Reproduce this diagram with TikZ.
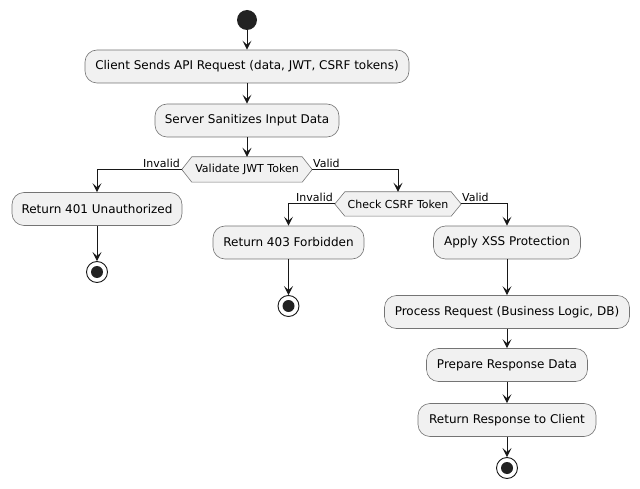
\documentclass[tikz,border=0pt]{standalone}
\usepackage{fontspec}
\setmainfont{DejaVu Sans}
\usetikzlibrary{arrows.meta,backgrounds}
\definecolor{boxfill}{HTML}{F1F1F1}
\definecolor{boxline}{HTML}{181818}
\definecolor{dotfill}{HTML}{222222}
\tikzset{
  actbox/.style={draw=boxline!60, line width=0.6pt, fill=boxfill, rounded corners=12pt,
    inner sep=0pt, minimum height=33pt, font=\fontsize{12}{14}\selectfont, text=black},
  hexlbl/.style={inner sep=0pt, minimum height=25pt, font=\fontsize{11}{13}\selectfont, text=black},
  hexshape/.style={draw=boxline!60, line width=0.6pt, fill=boxfill},
  brlbl/.style={inner sep=0pt, font=\fontsize{11}{13}\selectfont, text=black},
  flow/.style={draw=boxline, line width=1pt, -{Stealth[length=9pt,width=9pt,inset=4pt]}},
  startdot/.style={circle, fill=dotfill, minimum size=20pt, inner sep=0pt},
  enddot/.style={circle, draw=boxline, line width=0.9pt, fill=white, minimum size=21pt, inner sep=0pt,
    path picture={\fill[dotfill] (path picture bounding box.center) circle (6pt);}},
}
\newcommand{\hexdraw}[2]{%
  \begin{pgfonlayer}{background}
  \path[hexshape] (#1.west) -- ([xshift=#2]#1.north west) -- ([xshift=-#2]#1.north east)
    -- (#1.east) -- ([xshift=-#2]#1.south east) -- ([xshift=#2]#1.south west) -- cycle;
  \end{pgfonlayer}}
\begin{document}
\begin{tikzpicture}[x=1pt,y=-1pt]
\useasboundingbox (0,0) rectangle (640,489);
\node[startdot] (start) at (247,20) {};
\node[actbox, minimum width=324pt] (b1) at (247,66.5) {Client Sends API Request (data, JWT, CSRF tokens)};
\node[actbox, minimum width=184pt] (b2) at (247,120.5) {Server Sanitizes Input Data};
\node[hexlbl, minimum width=130pt] (jwt) at (247,169.5) {Validate JWT Token};
\hexdraw{jwt}{10pt}
\node[brlbl, anchor=base east] (jinv) at (180,167.5) {Invalid};
\node[brlbl, anchor=base west] (jval) at (313,167.5) {Valid};
\node[actbox, minimum width=170pt] (b3) at (97,209) {Return 401 Unauthorized};
\node[enddot] (e1) at (97,272) {};
\node[hexlbl, minimum width=126pt, minimum height=24pt] (csrf) at (398,204) {Check CSRF Token};
\hexdraw{csrf}{10pt}
\node[brlbl, anchor=base east] (cinv) at (333,201.5) {Invalid};
\node[brlbl, anchor=base west] (cval) at (462,201.5) {Valid};
\node[actbox, minimum width=151pt] (b4) at (288.5,242.5) {Return 403 Forbidden};
\node[enddot] (e2) at (288.5,306) {};
\node[actbox, minimum width=147pt] (b5) at (507,242.5) {Apply XSS Protection};
\node[actbox, minimum width=245pt] (b6) at (507,312) {Process Request (Business Logic, DB)};
\node[actbox, minimum width=161pt] (b7) at (507,365) {Prepare Response Data};
\node[actbox, minimum width=178pt] (b8) at (507,420) {Return Response to Client};
\node[enddot] (e3) at (507,468) {};
\draw[flow] (start) -- (b1);
\draw[flow] (b1) -- (b2);
\draw[flow] (b2) -- (jwt);
\draw[flow] (jwt.west) -| (b3.north);
\draw[flow] (b3) -- (e1);
\draw[flow] (jwt.east) -| (csrf.north);
\draw[flow] (csrf.west) -| (b4.north);
\draw[flow] (b4) -- (e2);
\draw[flow] (csrf.east) -| (b5.north);
\draw[flow] (b5) -- (b6);
\draw[flow] (b6) -- (b7);
\draw[flow] (b7) -- (b8);
\draw[flow] (b8) -- (e3);
\end{tikzpicture}
\end{document}
